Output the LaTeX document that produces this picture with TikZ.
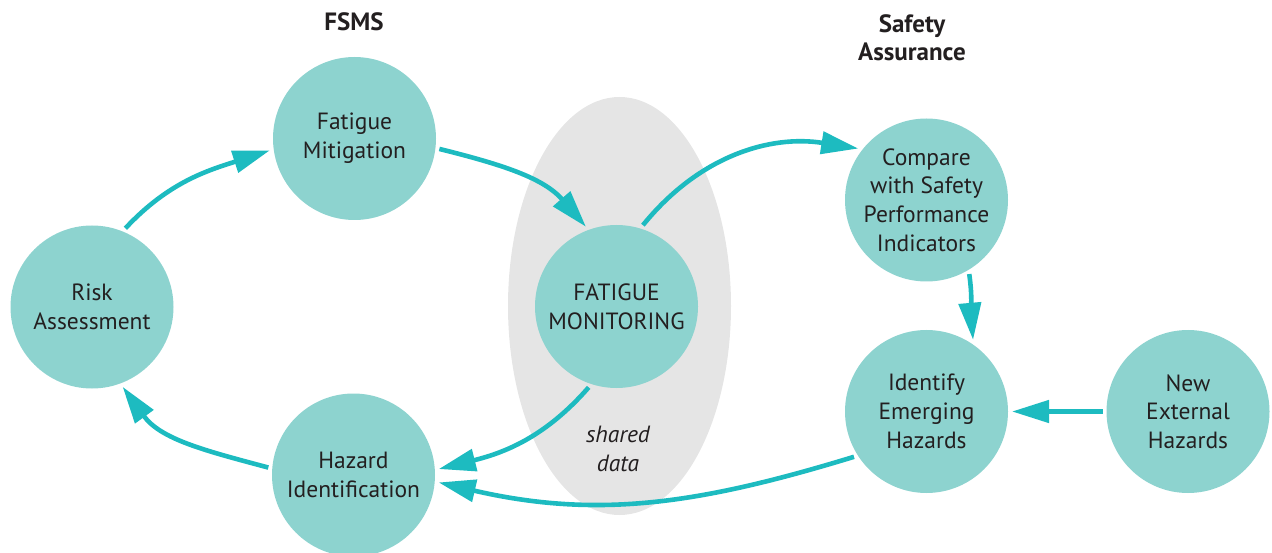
\documentclass[tikz,border=0pt]{standalone}
\usepackage{fontspec}
\setmainfont{PT Sans}
\usetikzlibrary{arrows.meta}
\definecolor{disc}{HTML}{8DD3CF}
\definecolor{flow}{HTML}{1DBBC0}
\definecolor{panel}{HTML}{E5E5E5}
\definecolor{ink}{HTML}{231F20}
\begin{document}
\begin{tikzpicture}[x=1pt,y=1pt,
  stage/.style={circle, fill=disc, minimum size=163pt, inner sep=0pt, outer sep=4pt,
    align=center, text=ink, font=\fontsize{23.5}{28.7}\selectfont},
  flowarrow/.style={draw=flow, line width=4.6pt, -{Triangle[length=37pt,width=22pt]}},
  heading/.style={align=center, text=ink, font=\bfseries\fontsize{25}{28}\selectfont}
]
\useasboundingbox (0,0) rectangle (1272,-553);
\clip (0,0) rectangle (1272,-553);

% shared data region behind the monitoring stage
\fill[panel] (619.5,-306) ellipse [x radius=111.5, y radius=209];

% headings
\node[heading] (fsms) at (354,-22) {FSMS};
\node[heading] (sa) at (912,-38) {Safety\\Assurance};

% FSMS loop
\node[stage] (risk) at (92,-307) {Risk\\Assessment};
\node[stage] (mit) at (354.5,-138.5) {Fatigue\\Mitigation};
\node[stage] (haz) at (353.5,-475) {Hazard\\Identification};
\node[stage] (mon) at (616.5,-306.5) {FATIGUE\\MONITORING};

% safety assurance
\node[stage] (cmp) at (926.5,-200) {Compare\\with Safety\\Performance\\Indicators};
\node[stage] (idh) at (926.5,-411.5) {Identify\\Emerging\\Hazards};
\node[stage] (new) at (1188,-411.5) {New\\External\\Hazards};

\node[align=center, text=ink, font=\itshape\fontsize{23.5}{28.7}\selectfont] (shared) at (618,-449) {shared\\data};

% connectors
\draw[flowarrow] (risk.67) to[out=47,in=198] (mit.188);
\draw[flowarrow] (haz.175) to[out=165,in=-54] (risk.291);
\draw[flowarrow] (mit.-7) to[out=-14,in=131] (mon.111);
\draw[flowarrow] (mon.72) to[out=51,in=171] (cmp.143);
\draw[flowarrow] (mon.251) to[out=229,in=14] (haz.4);
\draw[flowarrow] (idh.212) to[out=197,in=-13] (haz.-5);
\draw[flowarrow] (cmp.-60) to[out=-82,in=95] (idh.57);
\draw[flowarrow] (new) -- (idh);
\end{tikzpicture}
\end{document}
